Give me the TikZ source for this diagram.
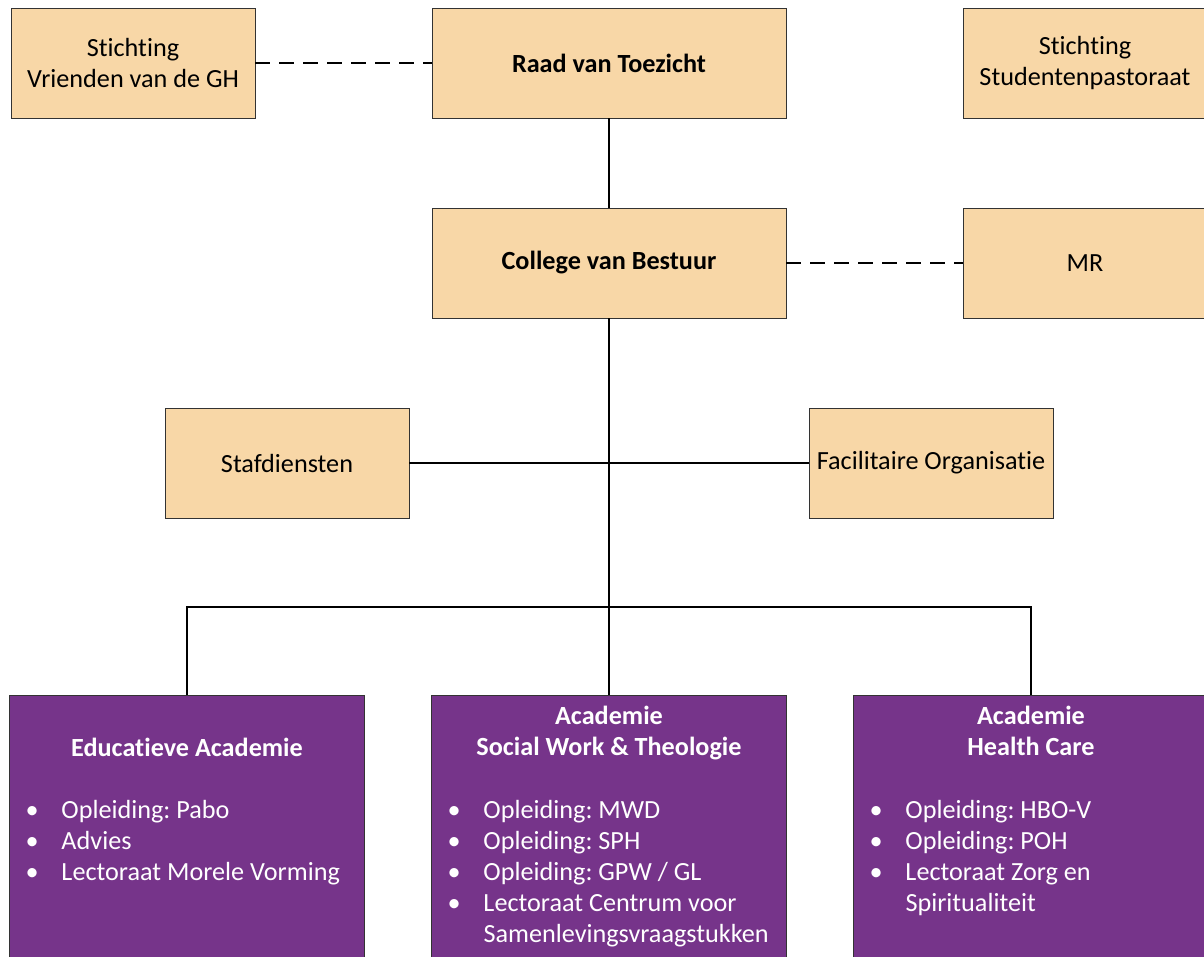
\documentclass[tikz,border=0pt]{standalone}
\usepackage{fontspec}
\setmainfont{Carlito}[Ligatures=NoCommon]
\usetikzlibrary{positioning}
\definecolor{ghorange}{RGB}{248,215,167}
\definecolor{ghpurple}{RGB}{118,52,138}
\frenchspacing

\begin{document}
\begin{tikzpicture}[x=0.5pt, y=-0.5pt, node distance=100pt,
        every node/.style={font=\fontsize{13.1}{15.5}\selectfont},
        orgbox/.style={draw=black!80, fill=ghorange, minimum width=122pt, minimum height=55pt, align=center, inner sep=0pt},
        widebox/.style={orgbox, minimum width=177pt},
        academie/.style={draw=black!80, fill=ghpurple, minimum width=177.5pt, minimum height=150pt, anchor=north},
        acatitle/.style={text=white, font=\fontsize{13.1}{15.5}\selectfont\bfseries, anchor=base, inner sep=0pt},
        acalist/.style={text=white, anchor=base west, inner sep=0pt},
        link/.style={line width=0.6pt},
        trunk/.style={line width=1pt},
        dashlink/.style={line width=0.6pt, dash pattern=on 7.5pt off 4.5pt}]
        \clip (0,0) rectangle (1204,957);

        % Top level
        \node [widebox] (raad) at (609,63) {\textbf{Raad van Toezicht}};
        \node [orgbox, left of=raad, node distance=238pt] (vrienden) {Stichting\\Vrienden van de GH};
        \node [orgbox, right of=raad, node distance=238pt] (pastoraat) {Stichting\\Studentenpastoraat};

        % Board
        \node [widebox, below of=raad] (college) {\textbf{College van Bestuur}};
        \node [orgbox, right of=college, node distance=238pt] (mr) {MR};

        % Staff
        \node [orgbox, below of=college, xshift=-161pt] (staf) {Stafdiensten};
        \node [orgbox, below of=college, xshift=161pt] (facil) {Facilitaire Organisatie};

        % Academies
        \node [academie] (educ) at (187,695) {};
        \node [academie] (social) at (609,695) {};
        \node [academie] (health) at (1031,695) {};

        \node [acatitle] (eductitle) at ([yshift=-30.5pt]educ.north) {Educatieve Academie};
        \node [acatitle] (socialtitle) at ([yshift=-14.5pt]social.north)
            {\begin{tabular}[t]{@{}c@{}}Academie\\Social Work \& Theologie\end{tabular}};
        \node [acatitle] (healthtitle) at ([yshift=-14.5pt]health.north)
            {\begin{tabular}[t]{@{}c@{}}Academie\\Health Care\end{tabular}};

        \node [acalist] (educlist) at ([xshift=8pt, yshift=-61.5pt]educ.north west)
            {\begin{tabular}[t]{@{}p{18pt}@{}l@{}}
            \textbullet & Opleiding: Pabo\\
            \textbullet & Advies\\
            \textbullet & Lectoraat Morele Vorming
            \end{tabular}};
        \node [acalist] (sociallist) at ([xshift=8pt, yshift=-61.5pt]social.north west)
            {\begin{tabular}[t]{@{}p{18pt}@{}l@{}}
            \textbullet & Opleiding: MWD\\
            \textbullet & Opleiding: SPH\\
            \textbullet & Opleiding: GPW / GL\\
            \textbullet & Lectoraat Centrum voor\\
            & Samenlevingsvraagstukken
            \end{tabular}};
        \node [acalist] (healthlist) at ([xshift=8pt, yshift=-61.5pt]health.north west)
            {\begin{tabular}[t]{@{}p{18pt}@{}l@{}}
            \textbullet & Opleiding: HBO-V\\
            \textbullet & Opleiding: POH\\
            \textbullet & Lectoraat Zorg en\\
            & Spiritualiteit
            \end{tabular}};

        % Lines
        \draw [dashlink] (vrienden) -- (raad);
        \draw [dashlink] (college) -- (mr);
        \draw [link] (raad) -- (college);
        \draw [trunk] (college) -- (social);
        \draw [link] (staf) -- (facil);
        \coordinate (bus) at (609,607);
        \draw [link] (educ.north) |- (bus) -| (health.north);
    \end{tikzpicture}
\end{document}
